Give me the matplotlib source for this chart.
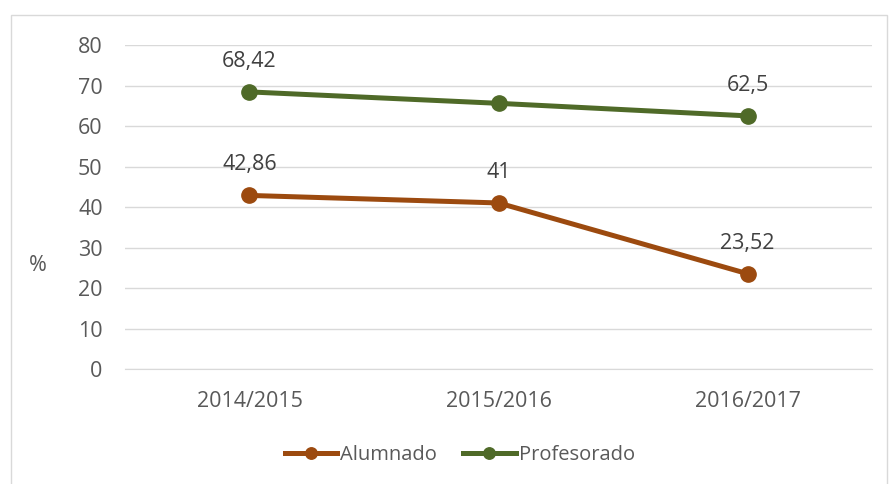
import matplotlib.pyplot as plt
from matplotlib.patches import Rectangle

plt.rcParams['font.family'] = ['Open Sans', 'DejaVu Sans']

cursos = ["2014/2015", "2015/2016", "2016/2017"]
alumnado = [42.86, 41, 23.52]
profesorado = [68.42, 65.6, 62.5]
etiquetas_alumnado = ["42,86", "41", "23,52"]
etiquetas_profesorado = ["68,42", "", "62,5"]

col_alum = "#9C4A0F"
col_prof = "#4F6A28"
texto = "#595959"
fs = 15.5

fig = plt.figure(figsize=(8.9, 4.84), dpi=100)
ax = fig.add_axes([0.1404, 0.2376, 0.8396, 0.6694])

x = range(len(cursos))
ax.plot(x, alumnado, color=col_alum, lw=3.6, marker="o", ms=11, label="Alumnado")
ax.plot(x, profesorado, color=col_prof, lw=3.6, marker="o", ms=11, label="Profesorado")

for serie, etiquetas in [(alumnado, etiquetas_alumnado), (profesorado, etiquetas_profesorado)]:
    for xi, v, t in zip(x, serie, etiquetas):
        if t:
            ax.annotate(t, (xi, v), xytext=(0, 22), textcoords="offset points",
                        ha="center", va="center", fontsize=fs, color="#404040")

ax.set_xlim(-0.5, 2.5)
ax.set_ylim(0, 80)
ax.set_yticks(range(0, 81, 10))
ax.set_xticks(list(x))
ax.set_xticklabels(cursos)
ax.grid(axis="y", color="#D9D9D9", lw=1)
ax.set_axisbelow(True)
for s in ["top", "right", "left"]:
    ax.spines[s].set_visible(False)
ax.spines["bottom"].set_color("#D9D9D9")
ax.tick_params(length=0, labelsize=fs, colors=texto)
ax.tick_params(axis="y", pad=16)
ax.tick_params(axis="x", pad=16)

fig.text(0.043, 0.452, "%", fontsize=fs, color=texto, ha="center", va="center")

ax.legend(loc="center", bbox_to_anchor=(0.448, -0.265), ncol=2, frameon=False,
          fontsize=14.5, labelcolor=texto, handlelength=2.6, handletextpad=0.15,
          columnspacing=1.3, markerscale=0.75)

fig.patches.append(Rectangle((0.012, -0.01), 0.985, 0.98, transform=fig.transFigure,
                             fill=False, edgecolor="#D9D9D9", lw=1))

fig.savefig("out.png", dpi=100)
